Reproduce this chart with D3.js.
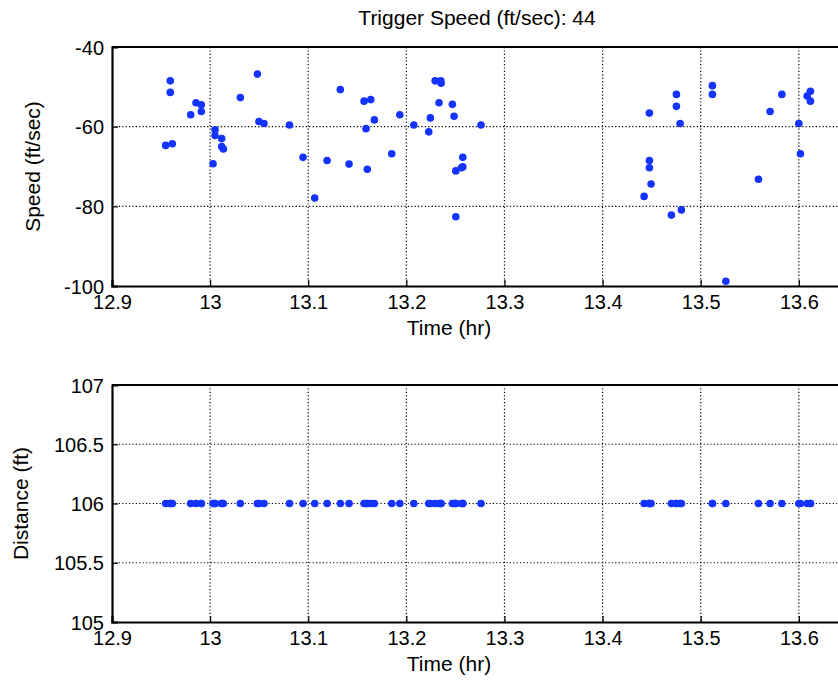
<!DOCTYPE html>
<html>
<head>
<meta charset="utf-8">
<script src="https://cdn.jsdelivr.net/npm/d3@7"></script>
<style>
  body { margin: 0; overflow: hidden; background: #fff; }
  svg { display: block; }
  text { font-family: "Liberation Sans", Arial, Helvetica, sans-serif; fill: #000; }
</style>
</head>
<body>
<div id="chart"></div>
<script>
// values
const timeHr = [
  12.9547, 12.9594, 12.9594, 12.9615, 12.9802, 12.9856, 12.9910, 12.9910,
  13.0030, 13.0050, 13.0050, 13.0118, 13.0118, 13.0135, 13.0308, 13.0481,
  13.0498, 13.0549, 13.0809, 13.0947, 13.1066, 13.1192, 13.1327, 13.1416,
  13.1569, 13.1589, 13.1602, 13.1637, 13.1674, 13.1851, 13.1933, 13.2076,
  13.2228, 13.2245, 13.2293, 13.2351, 13.2354, 13.2333, 13.2469, 13.2486,
  13.2504, 13.2504, 13.2561, 13.2575, 13.2575, 13.2761,
  13.4423, 13.4477, 13.4477, 13.4477, 13.4494, 13.4701, 13.4752, 13.4752,
  13.4790, 13.4803, 13.5119, 13.5119, 13.5256, 13.5588, 13.5707, 13.5827,
  13.6000, 13.6016, 13.6085, 13.6118, 13.6118
];
const speedFtSec = [
  -64.7, -48.5, -51.4, -64.3, -57.0, -54.0, -54.5, -56.2,
  -69.3, -60.8, -62.2, -63.0, -65.0, -65.6, -52.7, -46.8,
  -58.7, -59.2, -59.6, -67.7, -77.9, -68.5, -50.7, -69.4,
  -53.6, -60.5, -70.7, -53.2, -58.3, -66.8, -57.0, -59.6,
  -61.3, -57.8, -48.5, -48.5, -49.1, -54.0, -54.4, -57.4,
  -71.1, -82.6, -70.3, -70.1, -67.7, -59.6,
  -77.5, -56.6, -68.5, -70.3, -74.4, -82.2, -51.9, -54.9,
  -59.2, -80.9, -49.7, -51.9, -98.8, -73.2, -56.2, -51.9,
  -59.2, -66.8, -52.3, -51.1, -53.6
];
const distanceFt = timeHr.map(() => 106);   // every shot at the same distance

const triggerSpeed = 44;
const timeTicks = [12.9, 13, 13.1, 13.2, 13.3, 13.4, 13.5, 13.6];
const speedTicks = [-40, -60, -80, -100];
const distTicks = [105, 105.5, 106, 106.5, 107];

const W = 838, H = 681;
const svg = d3.select('#chart').append('svg')
  .attr('width', W)
  .attr('height', H);

// plain hyphen for negatives, like the original
const fmt = d => String(d);

// axes run past the right edge of the window, like the original figure
const x = d3.scaleLinear().domain([12.9, 13.645]).range([112, 843]);

function drawPanel(yScale, yTicks, xs, ys, yLabel) {
  const g = svg.append('g');
  const [y1, y0] = yScale.range();   // bottom, top
  const [x0, x1] = x.range();

  // dotted grid
  g.selectAll('.gx').data(timeTicks.slice(1)).enter().append('line')
    .attr('x1', d => x(d)).attr('x2', d => x(d))
    .attr('y1', y0).attr('y2', y1)
    .attr('stroke', '#000').attr('stroke-width', 1.2)
    .attr('stroke-dasharray', '1.2,2.2');
  g.selectAll('.gy').data(yTicks.filter(d => yScale(d) > y0 + 1 && yScale(d) < y1 - 1)).enter().append('line')
    .attr('x1', x0).attr('x2', x1)
    .attr('y1', d => yScale(d)).attr('y2', d => yScale(d))
    .attr('stroke', '#000').attr('stroke-width', 1.2)
    .attr('stroke-dasharray', '1.2,2.2');

  // axes with inward ticks
  const ax = g.append('g').attr('transform', `translate(0,${y1})`)
    .call(d3.axisBottom(x).tickValues(timeTicks).tickSize(-6).tickPadding(9).tickFormat(fmt));
  const ay = g.append('g').attr('transform', `translate(${x0},0)`)
    .call(d3.axisLeft(yScale).tickValues(yTicks).tickSize(-6).tickPadding(8).tickFormat(fmt));
  [ax, ay].forEach(a => {
    a.select('.domain').attr('stroke', '#000').attr('stroke-width', 2.2);
    a.selectAll('.tick line').attr('stroke', '#000').attr('stroke-width', 1.2);
    a.selectAll('text').attr('font-size', 20).style('font-family', '"Liberation Sans", Arial, sans-serif');
  });
  ay.selectAll('.tick text').attr('dy', '0.36em');
  // top border
  g.append('line').attr('x1', x0).attr('x2', x1).attr('y1', y0).attr('y2', y0)
    .attr('stroke', '#000').attr('stroke-width', 2.2);

  // points
  g.selectAll('circle').data(xs.map((d, i) => [d, ys[i]])).enter().append('circle')
    .attr('cx', d => x(d[0]))
    .attr('cy', d => yScale(d[1]))
    .attr('r', 3.8)
    .attr('fill', '#1433ff');

  // labels
  g.append('text')
    .attr('x', 449).attr('y', y1 + 49)
    .attr('text-anchor', 'middle').attr('font-size', 21)
    .text('Time (hr)');
  g.append('text')
    .attr('transform', `translate(${yLabel.x},${(y0 + y1) / 2}) rotate(-90)`)
    .attr('text-anchor', 'middle').attr('font-size', 21)
    .text(yLabel.text);
}

const ySpeed = d3.scaleLinear().domain([-100, -40]).range([286, 47]);
const yDist = d3.scaleLinear().domain([105, 107]).range([622, 385]);

drawPanel(ySpeed, speedTicks, timeHr, speedFtSec, {x: 40, text: 'Speed (ft/sec)'});
drawPanel(yDist, distTicks, timeHr, distanceFt, {x: 28, text: 'Distance (ft)'});

svg.append('text')
  .attr('x', 477).attr('y', 25)
  .attr('text-anchor', 'middle').attr('font-size', 21)
  .text('Trigger Speed (ft/sec): ' + triggerSpeed);
</script>
</body>
</html>
